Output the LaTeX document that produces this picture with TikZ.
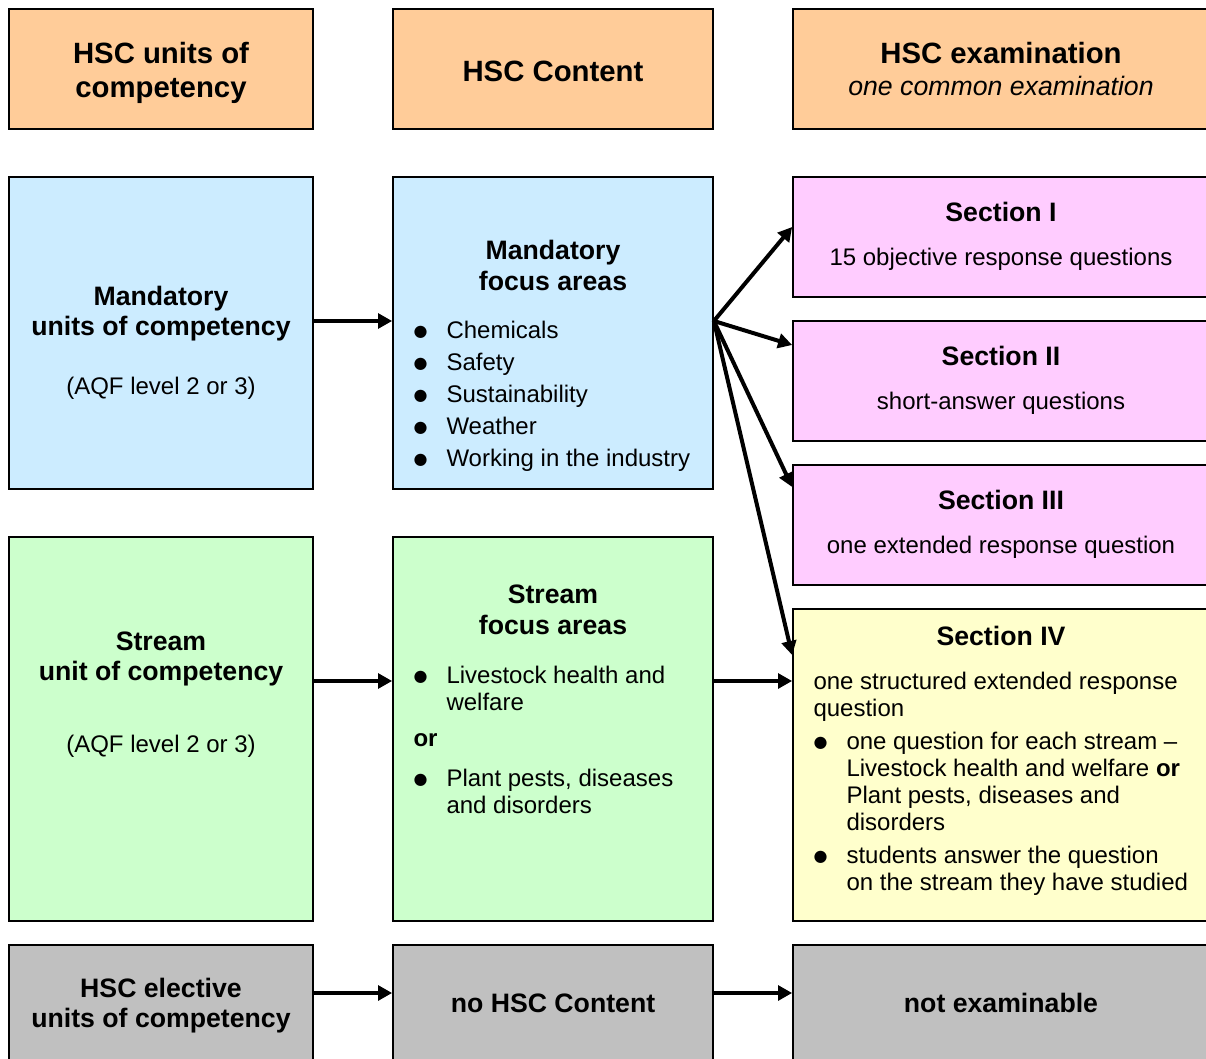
\documentclass[tikz,border=0pt]{standalone}
\usepackage{fontspec}
\setmainfont{Liberation Sans}
\newfontfamily\dotfont{DejaVu Sans}
\usetikzlibrary{fit,arrows.meta}

\definecolor{hdrorange}{RGB}{255,204,153}
\definecolor{mandblue}{RGB}{204,236,255}
\definecolor{streamgreen}{RGB}{204,255,204}
\definecolor{secpink}{RGB}{255,204,255}
\definecolor{secyellow}{RGB}{255,255,204}
\definecolor{electgray}{RGB}{192,192,192}

\newcommand{\blt}{\makebox[24.75pt][l]{\raisebox{1.8pt}{\dotfont\fontsize{12}{12}\selectfont ●}}}
\newcommand{\bind}{\hspace*{24.75pt}}

\tikzset{every picture/.style={line width=0.75pt}}
\tikzset{
	box/.style={draw, line width=1.3pt, inner sep=0pt},
	hdr/.style={font=\bfseries\fontsize{22}{25.5}\selectfont, align=center, inner sep=0pt},
	ttl/.style={font=\bfseries\fontsize{20}{23}\selectfont, align=center, inner sep=0pt},
	txt/.style={font=\fontsize{18}{20.25}\selectfont, align=center, inner sep=0pt},
	lst/.style={font=\fontsize{18}{20.25}\selectfont, align=left, inner sep=0pt, anchor=north west},
	arr/.style={line width=3pt, -{Triangle[length=10.5pt,width=11pt]}}
}

\begin{document}
\begin{tikzpicture}[x=0.75pt,y=0.75pt,yscale=-1,xscale=1]
	\useasboundingbox (0,0) rectangle (1206,1059);
	\clip (0,0) rectangle (1206,1059);

	%Shape: Rectangle
	\node [box, fill=hdrorange, fit={(9,9) (313,129)}] (hunits) {};
	%Shape: Rectangle
	\node [box, fill=hdrorange, fit={(393,9) (713,129)}] (hcontent) {};
	%Shape: Rectangle
	\node [box, fill=hdrorange, fit={(793,9) (1213,129)}] (hexam) {};
	%Shape: Rectangle
	\node [box, fill=mandblue, fit={(9,177) (313,489)}] (mandunits) {};
	%Shape: Rectangle
	\node [box, fill=mandblue, fit={(393,177) (713,489)}] (mandfocus) {};
	%Shape: Rectangle
	\node [box, fill=secpink, fit={(793,177) (1213,297)}] (secone) {};
	%Shape: Rectangle
	\node [box, fill=secpink, fit={(793,321) (1213,441)}] (sectwo) {};
	%Shape: Rectangle
	\node [box, fill=secpink, fit={(793,465) (1213,585)}] (secthree) {};
	%Shape: Rectangle
	\node [box, fill=streamgreen, fit={(9,537) (313,921)}] (strunit) {};
	%Shape: Rectangle
	\node [box, fill=streamgreen, fit={(393,537) (713,921)}] (strfocus) {};
	%Shape: Rectangle
	\node [box, fill=secyellow, fit={(793,609) (1213,921)}] (secfour) {};
	%Shape: Rectangle
	\node [box, fill=electgray, fit={(9,945) (313,1061)}] (elunits) {};
	%Shape: Rectangle
	\node [box, fill=electgray, fit={(393,945) (713,1061)}] (elcontent) {};
	%Shape: Rectangle
	\node [box, fill=electgray, fit={(793,945) (1213,1061)}] (elexam) {};

	%Arrows (shifts in picture units, so negative is up)
	\draw [arr] ([shift={(0,-12)}]mandunits.east) -- ([shift={(0,-12)}]mandfocus.west);
	\draw [arr] ([shift={(0,-12)}]mandfocus.east) -- ([shift={(0,-10)}]secone.west);
	\draw [arr] ([shift={(0,-12)}]mandfocus.east) -- ([shift={(0,-36)}]sectwo.west);
	\draw [arr] ([shift={(0,-12)}]mandfocus.east) -- ([shift={(0,-38)}]secthree.west);
	\draw [arr] ([shift={(0,-12)}]mandfocus.east) -- ([shift={(0,-110)}]secfour.west);
	\draw [arr] ([shift={(0,-48)}]strunit.east) -- ([shift={(0,-48)}]strfocus.west);
	\draw [arr] ([shift={(0,-48)}]strfocus.east) -- ([shift={(0,-48)}]strfocus.east -| secfour.west);
	\draw [arr] ([shift={(0,-10)}]elunits.east) -- ([shift={(0,-10)}]elcontent.west);
	\draw [arr] ([shift={(0,-10)}]elcontent.east) -- ([shift={(0,-10)}]elexam.west);

	% Text Node
	\node [hdr] (hunitst) at (161,73) {HSC units of\\competency};
	% Text Node
	\node [hdr] (hcontentt) at (553,71) {HSC Content};
	% Text Node
	\node [hdr, font=\bfseries\fontsize{22}{24}\selectfont] (hexamt) at (1001,69) {HSC examination\\\fontsize{20}{24}\selectfont\mdseries\itshape one common examination};
	% Text Node
	\node [ttl] (mandunitst) at (161,313.5) {Mandatory\\units of competency};
	% Text Node
	\node [txt] (mandunitsq) at (161,388) {(AQF level 2 or 3)};
	% Text Node
	\node [ttl] (mandfocust) at (553,265.5) {Mandatory\\focus areas};
	% Text Node
	\node [lst, font=\fontsize{18}{24}\selectfont] (mandfocusl) at (413,321) {\blt Chemicals\\\blt Safety\\\blt Sustainability\\\blt Weather\\\blt Working in the industry};
	% Text Node
	\node [ttl] (strunitt) at (161,659) {Stream\\unit of competency};
	% Text Node
	\node [txt] (strunitq) at (161,746) {(AQF level 2 or 3)};
	% Text Node
	\node [ttl] (strfocust) at (553,610) {Stream\\focus areas};
	% Text Node
	\node [lst] (strfocusl) at (413,666) {\blt Livestock health and\\\bind welfare\\[6.75pt]\textbf{or}\\[9.75pt]\blt Plant pests, diseases\\\bind and disorders};
	% Text Node
	\node [ttl] (seconet) at (1001,212) {Section I};
	% Text Node
	\node [txt] (seconeb) at (1001,259) {15 objective response questions};
	% Text Node
	\node [ttl] (sectwot) at (1001,356) {Section II};
	% Text Node
	\node [txt] (sectwob) at (1001,403) {short-answer questions};
	% Text Node
	\node [ttl] (secthreet) at (1001,500) {Section III};
	% Text Node
	\node [txt] (secthreeb) at (1001,547) {one extended response question};
	% Text Node
	\node [ttl] (secfourt) at (1001,636) {Section IV};
	% Text Node
	\node [lst] (secfourl) at (813,672) {one structured extended response\\question\\[4.5pt]\blt one question for each stream \textendash\\\bind Livestock health and welfare \textbf{or}\\\bind Plant pests, diseases and\\\bind disorders\\[4.5pt]\blt students answer the question\\\bind on the stream they have studied};
	% Text Node
	\node [ttl] (elunitst) at (161,1005.5) {HSC elective\\units of competency};
	% Text Node
	\node [ttl] (elcontentt) at (553,1003) {no HSC Content};
	% Text Node
	\node [ttl] (elexamt) at (1001,1003) {not examinable};

\end{tikzpicture}
\end{document}
